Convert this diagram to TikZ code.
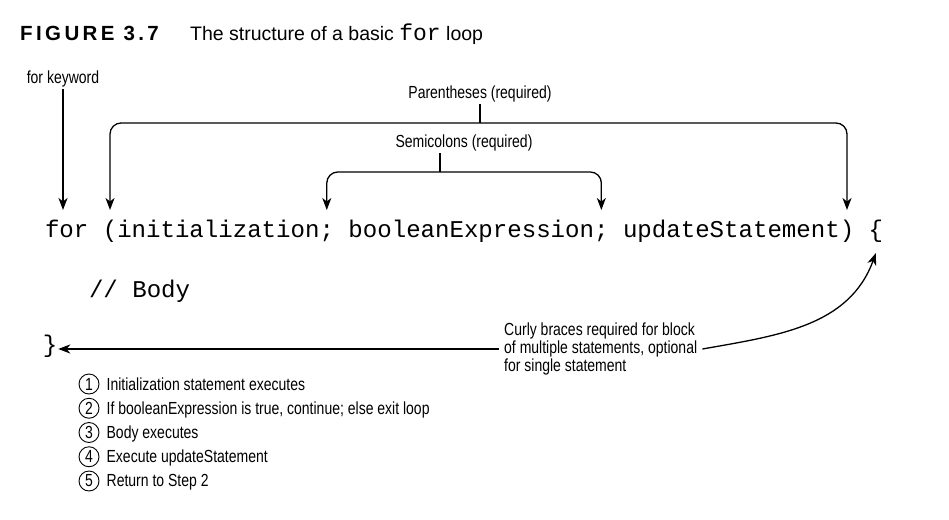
\documentclass[tikz,border=0pt]{standalone}
\usepackage{fontspec}
\setmainfont{Liberation Sans}
\newfontfamily\labelfont[FakeStretch=0.80]{Liberation Sans}
\newfontfamily\codefont{Liberation Mono}
\newfontfamily\figfont[LetterSpace=16.5]{Liberation Sans}
\usetikzlibrary{arrows.meta, positioning}

\newcommand{\chw}{14.448pt}

\tikzset{
  >={Stealth[length=12pt, width=9pt, inset=3.5pt]},
  lbl/.style={font=\labelfont\fontsize{17.5}{18}\selectfont, inner sep=2pt},
  code/.style={font=\codefont\fontsize{24.08}{28}\selectfont, inner xsep=0pt, inner ysep=0pt,
    outer xsep=0pt, outer ysep=11pt, text height=16pt, text depth=5pt},
  link/.style={line width=1.3pt},
  heavy/.style={line width=1.9pt},
  numcirc/.style={circle, draw, line width=0.9pt, minimum size=20pt, inner sep=0pt,
    font=\labelfont\fontsize{17.5}{18}\selectfont},
}

\begin{document}
\begin{tikzpicture}[x=1pt, y=-1pt]
      \useasboundingbox (0,0) rectangle (949,519);

      % Title
      \node[anchor=base west, inner sep=0pt, font=\figfont\bfseries\fontsize{20.5}{24}\selectfont] (fignum) at (20,40.7) {FIGURE 3.7};
      \node[anchor=base west, inner sep=0pt, font=\fontsize{19.5}{24}\selectfont] (figtitle) at (190,40.7)
        {The structure of a basic {\codefont\fontsize{23}{24}\selectfont for} loop};

      % Code
      \node[code, anchor=base west] (kwfor) at (45,237) {for};
      \node[code, base right=\chw of kwfor] (lparen) {(};
      \node[code, base right=0pt of lparen] (init) {initialization};
      \node[code, base right=0pt of init] (semi1) {;};
      \node[code, base right=0pt of semi1] (cond) {\ booleanExpression};
      \node[code, base right=0pt of cond] (semi2) {;};
      \node[code, base right=0pt of semi2] (upd) {\ updateStatement};
      \node[code, base right=0pt of upd] (rparen) {)};
      \node[code, base right=\chw of rparen] (lbrace) {\{};
      \node[code, anchor=base west] (body) at (89,297) {// Body};
      \node[code, outer ysep=0pt, inner sep=1pt] (rbrace) at (50,347) {\}};

      % Labels
      \node[lbl] (forlbl) at (63,79) {for keyword};
      \node[lbl] (parlbl) at (480,94) {Parentheses (required)};
      \node[lbl] (semilbl) at (464,143) {Semicolons (required)};
      \node[lbl, align=left, anchor=west, inner xsep=5pt] (curly) at (499,349)
        {Curly braces required for block\\of multiple statements, optional\\for single statement};
      \coordinate (parbar) at (480,123);
      \coordinate (semibar) at (440,172);

      % Edges
      \draw[heavy, ->] (forlbl.south) -- (forlbl.south |- kwfor.north);
      \draw[link] (parlbl) -- (parbar);
      \draw[link, ->, rounded corners=11pt] (parbar) -| (lparen);
      \draw[link, ->, rounded corners=11pt] (parbar) -| (rparen);
      \draw[link] (semilbl.south -| semibar) -- (semibar);
      \draw[link, ->, rounded corners=11pt] (semibar) -| (semi1);
      \draw[link, ->, rounded corners=11pt] (semibar) -| (semi2);
      \draw[link, ->] (curly.east) to[out=10, in=-110] (lbrace.south);
      \draw[heavy, ->] (curly.west) -- (curly.west -| rbrace.east);

      % Steps
      \foreach \n/\txt in {1/Initialization statement executes,
          2/{If booleanExpression is true, continue; else exit loop},
          3/Body executes, 4/Execute updateStatement, 5/Return to Step 2} {
        \node[numcirc] (num\n) at (89, {384+24.25*(\n-1)}) {\n};
        \node[lbl, base right=5pt of num\n] (step\n) {\txt};
      }

    \end{tikzpicture}
\end{document}
